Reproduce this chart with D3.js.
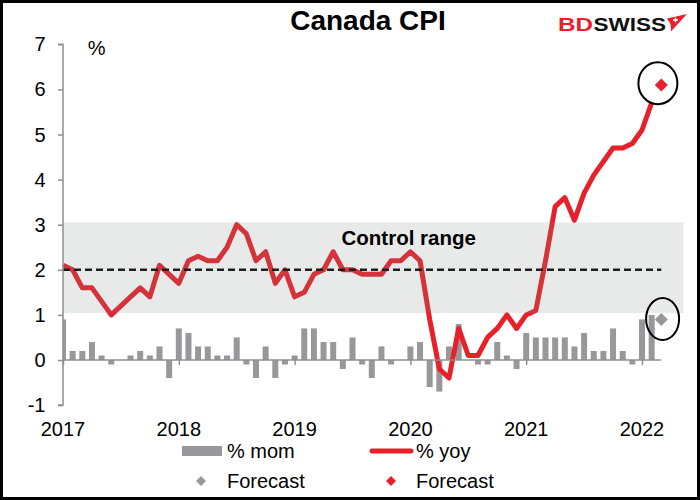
<!DOCTYPE html>
<html>
<head>
<meta charset="utf-8">
<script src="https://cdn.jsdelivr.net/npm/d3@7"></script>
<style>
  html, body { margin: 0; padding: 0; background: #fff; }
  svg { display: block; }
  text { font-family: "Liberation Sans", Arial, sans-serif; }
</style>
</head>
<body>
<svg id="chart" width="700" height="500"></svg>
<script>
// ---------- data ----------
const months = d3.timeMonths(new Date(2017, 0, 1), new Date(2022, 3, 1)).map(d3.timeFormat("%Y-%m")); // Jan 2017 .. Mar 2022
const yoy = [
  2.1, 2.0, 1.6, 1.6, 1.3, 1.0, 1.2, 1.4, 1.6, 1.4, 2.1, 1.9,
  1.7, 2.2, 2.3, 2.2, 2.2, 2.5, 3.0, 2.8, 2.2, 2.4, 1.7, 2.0,
  1.4, 1.5, 1.9, 2.0, 2.4, 2.0, 2.0, 1.9, 1.9, 1.9, 2.2, 2.2,
  2.4, 2.2, 0.9, -0.2, -0.4, 0.7, 0.1, 0.1, 0.5, 0.7, 1.0, 0.7,
  1.0, 1.1, 2.2, 3.4, 3.6, 3.1, 3.7, 4.1, 4.4, 4.7, 4.7, 4.8,
  5.1, 5.7
];
const mom = [
  0.9, 0.2, 0.2, 0.4, 0.1, -0.1, 0.0, 0.1, 0.2, 0.1, 0.3, -0.4,
  0.7, 0.6, 0.3, 0.3, 0.1, 0.1, 0.5, -0.1, -0.4, 0.3, -0.4, -0.1,
  0.1, 0.7, 0.7, 0.4, 0.4, -0.2, 0.5, -0.1, -0.4, 0.3, -0.1, 0.0,
  0.3, 0.4, -0.6, -0.7, 0.3, 0.8, 0.0, -0.1, -0.1, 0.4, 0.1, -0.2,
  0.6, 0.5, 0.5, 0.5, 0.5, 0.3, 0.6, 0.2, 0.2, 0.7, 0.2, -0.1,
  0.9, 1.0
];
const forecastMonth = "2022-03";
const forecastYoy = 6.1;
const forecastMom = 0.9;
const controlRange = [1.04, 3.05];
const targetLevel = 2;
const controlBandExtraMonths = 2.3;
const yTicks = [-1, 0, 1, 2, 3, 4, 5, 6, 7];
const yearTicks = ["2017-01", "2018-01", "2019-01", "2020-01", "2021-01", "2022-01"];
const yearLabels = ["2017", "2018", "2019", "2020", "2021", "2022"];

// ---------- setup ----------
const svg = d3.select("#chart");
const FONT = 20;
const RED = "#e8202a";
const BAR = "#98989c";
const AXIS = "#8f8f8f";

const x = d3.scalePoint().domain(months).range([63, 661.3]);
const y = d3.scaleLinear().domain([-1, 7]).range([405.1, 44.3]);
const step = x.step();

svg.append("rect").attr("width", 700).attr("height", 500).attr("fill", "#fff");

// clip for plot content
svg.append("defs").append("clipPath").attr("id", "plotclip")
  .append("rect").attr("x", x(months[0])).attr("y", 0).attr("width", 700).attr("height", 500);

const plot = svg.append("g").attr("clip-path", "url(#plotclip)");

// bars (% mom)
plot.selectAll("rect.bar").data(mom).enter().append("rect")
  .attr("class", "bar")
  .attr("x", (d, i) => x(months[i]) - 3)
  .attr("width", 6)
  .attr("y", d => y(Math.max(0, d)))
  .attr("height", d => Math.abs(y(d) - y(0)))
  .attr("fill", BAR);

// x axis (zero line) with ticks
const xAxis = d3.axisBottom(x).tickValues(yearTicks).tickSize(5).tickFormat("");
const gx = svg.append("g").attr("transform", `translate(0,${y(0)})`).call(xAxis);
gx.select(".domain").attr("stroke", AXIS).attr("stroke-width", 1.5).attr("d", `M${x(months[0])},0H${x(forecastMonth)}`);
gx.selectAll(".tick line").attr("stroke", AXIS).attr("stroke-width", 1.5);

// x labels
svg.append("g").selectAll("text").data(yearTicks).enter().append("text")
  .attr("x", d => x(d))
  .attr("y", 435.5)
  .attr("text-anchor", "middle")
  .attr("font-size", FONT)
  .attr("fill", "#000")
  .text((d, i) => yearLabels[i]);

// yoy line
const line = d3.line().x((d, i) => x(months[i])).y(d => y(d));
plot.append("path").datum(yoy)
  .attr("d", line)
  .attr("fill", "none")
  .attr("stroke", RED)
  .attr("stroke-width", 5)
  .attr("stroke-linejoin", "round");

// control range band (semi-transparent, over the line)
const bandX0 = x(months[0]);
const bandX1 = x(forecastMonth) + step * controlBandExtraMonths;
svg.append("rect")
  .attr("x", bandX0)
  .attr("width", bandX1 - bandX0)
  .attr("y", y(controlRange[1]))
  .attr("height", y(controlRange[0]) - y(controlRange[1]))
  .attr("fill", "#7f8b8b")
  .attr("fill-opacity", 0.18);

// target dashed line
svg.append("line")
  .attr("x1", x(months[0])).attr("x2", x(forecastMonth))
  .attr("y1", y(targetLevel)).attr("y2", y(targetLevel))
  .attr("stroke", "#1e1e1e")
  .attr("stroke-width", 2.6)
  .attr("stroke-dasharray", "7,4");

svg.append("text")
  .attr("x", 408.7).attr("y", 245)
  .attr("text-anchor", "middle")
  .attr("font-size", 20.5).attr("font-weight", "bold")
  .text("Control range");

// y axis
const yAxis = d3.axisLeft(y).tickValues(yTicks).tickSize(5).tickFormat("");
const gy = svg.append("g").attr("transform", `translate(${x(months[0])},0)`).call(yAxis);
gy.select(".domain").attr("stroke", AXIS).attr("stroke-width", 1.5).attr("d", `M-5,${y(7)}H0V${y(-1)}H-5`);
gy.selectAll(".tick line").attr("stroke", AXIS).attr("stroke-width", 1.5);

svg.append("g").selectAll("text").data(yTicks).enter().append("text")
  .attr("x", 45.5)
  .attr("y", d => y(d) + 7)
  .attr("text-anchor", "end")
  .attr("font-size", FONT)
  .text(d => d);

svg.append("text").attr("x", 96.7).attr("y", 55).attr("text-anchor", "middle")
  .attr("font-size", FONT).text("%");

// forecast markers
const diamond = (cx, cy, r) => `M${cx},${cy - r}L${cx + r},${cy}L${cx},${cy + r}L${cx - r},${cy}Z`;
const fx = x(forecastMonth);
svg.append("path").attr("d", diamond(fx, y(forecastYoy), 6.5)).attr("fill", RED);
svg.append("path").attr("d", diamond(fx, y(forecastMom), 6.5)).attr("fill", BAR);

// annotation ellipses
svg.append("ellipse").attr("cx", fx - 3.4).attr("cy", y(forecastYoy) - 1.7).attr("rx", 19.5).attr("ry", 21)
  .attr("fill", "none").attr("stroke", "#000").attr("stroke-width", 2);
svg.append("ellipse").attr("cx", fx + 1.3).attr("cy", y(forecastMom) - 0.5).attr("rx", 16.5).attr("ry", 21)
  .attr("fill", "none").attr("stroke", "#000").attr("stroke-width", 2);

// title
svg.append("text").attr("x", 368).attr("y", 30).attr("text-anchor", "middle")
  .attr("font-size", 28).attr("font-weight", "bold").text("Canada CPI");

// logo
svg.append("text").attr("x", 558).attr("y", 31).attr("font-size", 18.6).attr("font-weight", "bold")
  .attr("fill", "#e8202a").attr("textLength", 35).attr("lengthAdjust", "spacingAndGlyphs").text("BD");
svg.append("text").attr("x", 593.5).attr("y", 31).attr("font-size", 18.6).attr("font-weight", "bold")
  .attr("fill", "#111").attr("textLength", 72.5).attr("lengthAdjust", "spacingAndGlyphs").text("SWISS");
svg.append("path").attr("d", "M667,18.5L687,14L671,31.5L670.5,24Z").attr("fill", "#e8202a");
svg.append("path").attr("d", "M675.5,17.5V22.5M673,20H678").attr("stroke", "#fff").attr("stroke-width", 1.3);

// legend
const lg = svg.append("g");
lg.append("rect").attr("x", 182).attr("y", 446).attr("width", 40).attr("height", 10).attr("fill", BAR);
lg.append("text").attr("x", 227).attr("y", 457.5).attr("font-size", FONT).text("% mom");
lg.append("line").attr("x1", 372).attr("x2", 411).attr("y1", 451).attr("y2", 451)
  .attr("stroke", RED).attr("stroke-width", 5).attr("stroke-linecap", "round");
lg.append("text").attr("x", 416).attr("y", 457.5).attr("font-size", FONT).text("% yoy");
lg.append("path").attr("d", diamond(201, 481, 5)).attr("fill", BAR);
lg.append("text").attr("x", 227).attr("y", 488).attr("font-size", FONT).text("Forecast");
lg.append("path").attr("d", diamond(391, 481, 5)).attr("fill", RED);
lg.append("text").attr("x", 416).attr("y", 488).attr("font-size", FONT).text("Forecast");

// frame
svg.append("rect").attr("x", 1.5).attr("y", 1.5).attr("width", 697).attr("height", 497)
  .attr("fill", "none").attr("stroke", "#000").attr("stroke-width", 3);
</script>
</body>
</html>
